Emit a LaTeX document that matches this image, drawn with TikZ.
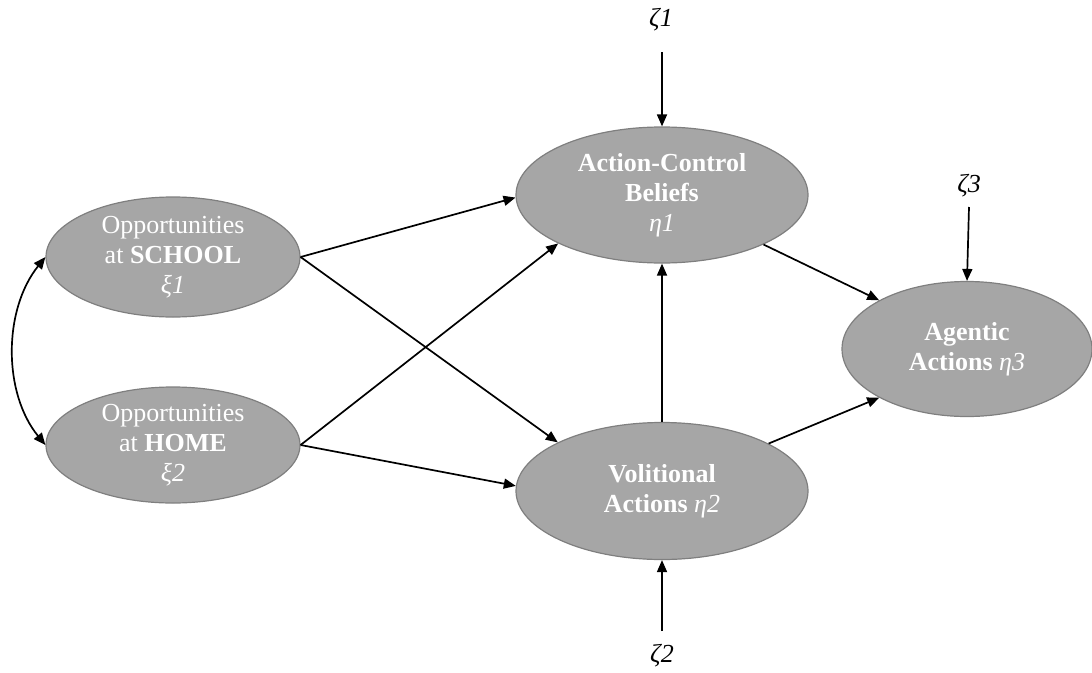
\documentclass[tikz,border=0pt]{standalone}
\usepackage{fontspec}
\setmainfont{Liberation Serif}
\usetikzlibrary{arrows.meta,shapes.geometric}
\definecolor{latentfill}{HTML}{A6A6A6}
\definecolor{latentedge}{HTML}{7F7F7F}
\begin{document}
\begin{tikzpicture}[x=1pt,y=-1pt,
  latent/.style={ellipse, fill=latentfill, draw=latentedge, line width=1.2pt,
    inner sep=0pt, align=center, text=white,
    font=\fontsize{26}{30}\selectfont},
  errlabel/.style={font=\fontsize{26}{30}\selectfont\itshape, inner sep=0pt},
  sempath/.style={line width=1.7pt, -{Triangle[length=12pt,width=10pt]}},
  covpath/.style={line width=1.7pt, {Triangle[length=12pt,width=10pt]}-{Triangle[length=12pt,width=10pt]}}
]
\useasboundingbox (0,0) rectangle (1092,672);

% latent variables
\node[latent, minimum width=254pt, minimum height=120pt] (school) at (173,257)
  {Opportunities\\at \textbf{SCHOOL}\\\textit{ξ1}};
\node[latent, minimum width=254pt, minimum height=116pt] (home) at (173,445)
  {Opportunities\\at \textbf{HOME}\\\textit{ξ2}};
\node[latent, minimum width=292pt, minimum height=136pt] (ac) at (662,195)
  {\textbf{Action-Control}\\\textbf{Beliefs}\\\textit{η1}};
\node[latent, minimum width=292pt, minimum height=137pt] (vol) at (662,491)
  {\textbf{Volitional}\\\textbf{Actions} \textit{η2}};
\node[latent, minimum width=250pt, minimum height=135pt] (ag) at (967,349)
  {\textbf{Agentic}\\\textbf{Actions} \textit{η3}};

% disturbance terms
\node[errlabel] (z1) at (661,20) {ζ1};
\node[errlabel] (z2) at (662,656) {ζ2};
\node[errlabel] (z3) at (969,186) {ζ3};
\coordinate (z1s) at (662,52);
\coordinate (z2s) at (662,631);
\coordinate (z3s) at (969,207);

\draw[sempath] (z1s) -- (ac.north);
\draw[sempath] (z2s) -- (vol.south);
\draw[sempath] (z3s) -- (ag.north);

% structural paths
\draw[sempath] (school.east) -- (ac.181);
\draw[sempath] (school.east) -- (vol.155.2);
\draw[sempath] (home.east) -- (ac.205.5);
\draw[sempath] (home.east) -- (vol.178.8);
\draw[sempath] (vol.north) -- (ac.south);
\draw[sempath] (ac.-26.1) -- (ag.151.9);
\draw[sempath] (vol.24.6) -- (ag.209.3);

% covariance between exogenous variables
\draw[covpath] (school.west) .. controls (3,310) and (3,393) .. (home.west);
\end{tikzpicture}
\end{document}
